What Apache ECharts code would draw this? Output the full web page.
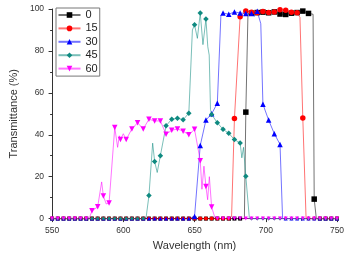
<!DOCTYPE html>
<html>
<head>
<meta charset="utf-8">
<script src="https://cdn.jsdelivr.net/npm/echarts@6/dist/echarts.min.js"></script>
<style>
  html, body { margin: 0; padding: 0; background: #fff; }
  #main { width: 348px; height: 256px; }
</style>
</head>
<body>
<div id="main"></div>
<script>
// marker wavelengths (nm), shared by all curves
const wl = [550, 554, 558, 562, 566, 570, 574, 578, 582, 586, 590, 594, 598, 602, 606, 610, 614,
    618, 622, 626, 630, 634, 638, 642, 646, 650, 654, 658, 662, 666, 670, 674, 678, 682, 686,
    690, 694, 698, 702, 706, 710, 714, 718, 722, 726, 730, 734, 738, 742, 746, 750];

// transmittance (%) at the marker wavelengths, one list per angle
const t0 = [0, 0, 0, 0, 0, 0, 0, 0, 0, 0, 0, 0, 0, 0, 0, 0, 0, 0, 0, 0, 0, 0, 0, 0, 0, 0, 0, 0, 0, 0, 0, 0, 0, 0,
    50.8, 98, 98.3, 98.5, 98.2, 98.6, 97.6, 97.4, 98, 98.3, 99, 97.9, 9.3, 0, 0, 0, 0];
const t15 = [0, 0, 0, 0, 0, 0, 0, 0, 0, 0, 0, 0, 0, 0, 0, 0, 0, 0, 0, 0, 0, 0, 0, 0, 0, 0, 0, 0, 0, 0, 0, 0,
    47.7, 96.3, 99, 98.5, 98.2, 98.8, 98.3, 98.6, 99.6, 99.4, 98.4, 98.2, 48, 0, 0, 0, 0, 0, 0];
const t30 = [0, 0, 0, 0, 0, 0, 0, 0, 0, 0, 0, 0, 0, 0, 0, 0, 0, 0, 0, 0, 0, 0, 0, 0, 0,
    1, 34.9, 47, 50, 55, 98.1, 97.5, 98.6, 98.1, 97.9, 97.9, 98.9, 54.6, 47, 40.5, 35.4,
    0, 0, 0, 0, 0, 0, 0, 0, 0, 0];
const t45 = [0, 0, 0, 0, 0, 0, 0, 0, 0, 0, 0, 0, 0, 0, 0, 0, 0,
    11, 27.3, 30, 44.3, 47.4, 47.9, 47.2, 50.3, 92.5, 98.1, 95.2, 49.7, 45.7, 42.6, 40.7, 37.7, 36.1, 20.2,
    0, 0, 0, 0, 0, 0, 0, 0, 0, 0, 0, 0, 0, 0, 0, 0];
const t60 = [0, 0, 0, 0, 0, 0, 0,
    3.7, 5.6, 10.8, 7.4, 43.5, 37.7, 37.7, 42.8, 45.7, 42.8, 47.4, 46.6, 46.6, 40.3, 42.1, 42.8, 41.7, 40, 42.6,
    27.6, 15.3, 5.5,
    0, 0, 0, 0, 0, 0, 0, 0, 0, 0, 0, 0, 0, 0, 0, 0, 0, 0, 0, 0, 0, 0];

// in-between spectrum points (no marker) [nm, %]
const ex0 = [[685, 0], [687.5, 97.5], [733.2, 97.5], [735.5, 0]];
const ex15 = [[676, 1], [724, 96], [728.3, 0]];
const ex30 = [[668.5, 97], [692, 96.5], [696.5, 93], [711.8, 0]];
const ex45 = [[616, 0.5], [620.6, 36], [623.8, 22], [648.5, 90], [652, 86], [655.9, 83], [659.3, 82],
    [660.3, 78], [661.2, 52], [683.2, 29], [684.4, 34], [688.5, 0]];
const ex60 = [[576, 0], [584.8, 17.5], [588, 7], [596, 34], [597.2, 39.5], [600, 40.5],
    [655.2, 14], [656.6, 25], [659.2, 9], [660.4, 20], [664.5, 0]];

const names = ['0', '15', '30', '45', '60'];
const colors = ['#000000', '#ff0000', '#0000ff', '#0f8a80', '#ff00ff'];
const symbols = ['rect', 'circle', 'triangle', 'diamond', 'triangle'];
const rotations = [0, 0, 0, 0, 180];
const values = [t0, t15, t30, t45, t60];
const extras = [ex0, ex15, ex30, ex45, ex60];

function buildData(vals, extra) {
    const pts = wl.map((w, i) => [w, vals[i]]);
    const more = extra.map(p => ({ value: p, symbolSize: 0 }));
    const key = d => Array.isArray(d) ? d[0] : d.value[0];
    return pts.concat(more).sort((a, b) => key(a) - key(b));
}

const chart = echarts.init(document.getElementById('main'), null, { renderer: 'canvas' });

const font = "'Liberation Sans', Arial, sans-serif";

const option = {
    animation: false,
    backgroundColor: '#fff',
    grid: { left: 43, right: 11, top: 9, bottom: 31 },
    legend: {
        orient: 'vertical',
        left: 56,
        top: 8,
        padding: [1.5, 2, 2, 1.5],
        itemGap: 2.4,
        itemWidth: 22,
        itemHeight: 7,
        borderColor: '#777',
        borderWidth: 1,
        borderRadius: 0,
        backgroundColor: '#fff',
        data: names,
        textStyle: { fontFamily: font, fontSize: 11, color: '#222' }
    },
    xAxis: {
        type: 'value',
        min: 550,
        max: 750,
        interval: 50,
        name: 'Wavelength (nm)',
        nameLocation: 'middle',
        nameGap: 21,
        nameTextStyle: { fontFamily: font, fontSize: 11, color: '#333' },
        axisLine: { lineStyle: { color: '#333', width: 1 } },
        axisTick: { inside: false, length: 3.5, lineStyle: { color: '#333' } },
        minorTick: { show: true, splitNumber: 2, length: 2, lineStyle: { color: '#333' } },
        axisLabel: { fontFamily: font, fontSize: 8.5, color: '#333', margin: 7.5 },
        splitLine: { show: false }
    },
    yAxis: {
        type: 'value',
        min: 0,
        max: 100,
        interval: 20,
        name: 'Transmittance (%)',
        nameLocation: 'middle',
        nameGap: 27,
        nameTextStyle: { fontFamily: font, fontSize: 11, color: '#333' },
        axisLine: { show: true, lineStyle: { color: '#333', width: 1 } },
        axisTick: { show: true, inside: false, length: 3.5, lineStyle: { color: '#333' } },
        minorTick: { show: true, splitNumber: 2, length: 2, lineStyle: { color: '#333' } },
        axisLabel: { fontFamily: font, fontSize: 8.5, color: '#333', margin: 8 },
        splitLine: { show: false }
    },
    series: names.map((n, i) => ({
        name: n,
        type: 'line',
        data: buildData(values[i], extras[i]),
        symbol: symbols[i],
        symbolRotate: rotations[i],
        symbolSize: v => v[1] < 0.5 ? 4 : 5.5,
        showAllSymbol: true,
        clip: false,
        color: colors[i],
        itemStyle: { color: colors[i] },
        lineStyle: { color: colors[i], width: 1, opacity: 0.55 },
        emphasis: { disabled: true }
    }))
};

chart.setOption(option);
</script>
</body>
</html>
